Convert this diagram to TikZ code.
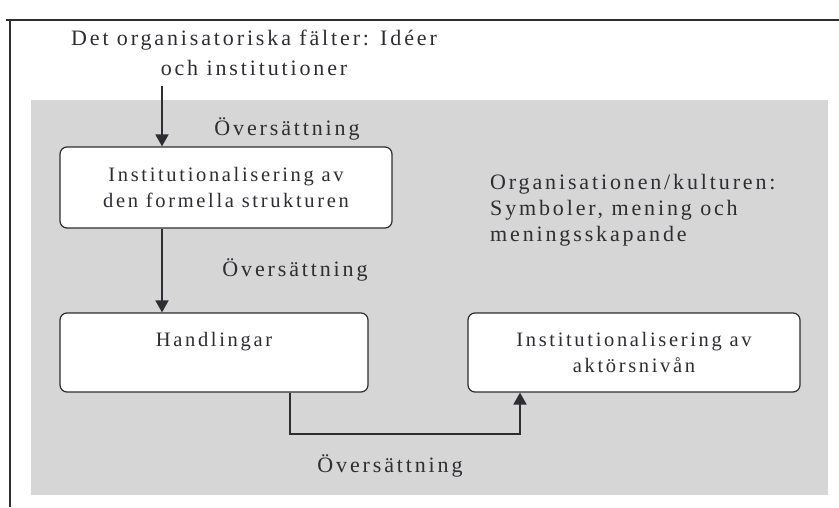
\documentclass[tikz,border=0pt]{standalone}
\usepackage{fontspec}
\setmainfont{Liberation Serif}[LetterSpace=13]
\usetikzlibrary{arrows.meta}
\definecolor{panel}{RGB}{214,214,214}
\definecolor{ink}{RGB}{45,45,50}
\begin{document}
\begin{tikzpicture}[x=1pt,y=-1pt,
  box/.style={draw=ink, line width=1.2pt, fill=white, rounded corners=7pt, align=center, text=ink, font=\fontsize{20.5}{26}\selectfont, inner sep=0pt},
  lbl/.style={text=ink, font=\fontsize{22}{27}\selectfont, inner sep=0pt},
  conn/.style={draw=ink, line width=1.8pt},
  arr/.style={conn, -{Triangle[width=13pt,length=12pt]}}]
\useasboundingbox (0,0) rectangle (839,507);
\fill[panel] (31,100) rectangle (828,495);
\draw[ink, line width=1.6pt] (6,20) -- (839,20);
\draw[ink, line width=1.6pt] (10,20) -- (10,507);
\node[lbl, align=center, font=\fontsize{22}{30}\selectfont] (field) at (254,53) {Det organisatoriska fälter: Idéer\\och institutioner};
\node[box, minimum width=332pt, minimum height=81pt] (b1) at (226,187.5) {Institutionalisering av\\den formella strukturen};
\node[box, minimum width=308pt, minimum height=79pt] (b2) at (214,352.5) {Handlingar\\\mbox{}};
\node[box, minimum width=332pt, minimum height=79pt] (b3) at (634,352.5) {Institutionalisering av\\aktörsnivån};
\node[lbl] (t1) at (287,129) {Översättning};
\node[lbl] (t2) at (295,270) {Översättning};
\node[lbl] (t3) at (390,466) {Översättning};
\node[lbl, align=left, anchor=north west, font=\fontsize{22}{26}\selectfont] (org) at (490,174) {Organisationen/kulturen:\\Symboler, mening och\\meningsskapande};
\coordinate (a0) at (162,86);
\coordinate (c1) at (290,434);
\coordinate (c2) at (520,434);
\draw[arr] (a0) -- (b1.north -| a0);
\draw[arr] (b1.south -| a0) -- (b2.north -| a0);
\draw[arr] (b2.south -| c1) -- (c1) -- (c2) -- (b3.south -| c2);
\end{tikzpicture}
\end{document}
